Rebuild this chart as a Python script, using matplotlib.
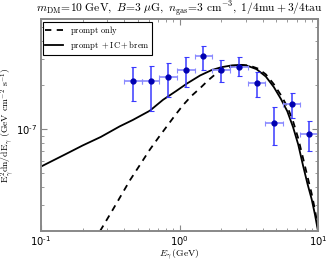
#!/usr/bin/env python3
"""Gamma-ray spectrum: prompt vs prompt+IC+brem, with binned data points."""

import math

import matplotlib
matplotlib.use("Agg")
import matplotlib.pyplot as plt
from matplotlib.font_manager import FontProperties
from matplotlib.ticker import FuncFormatter, LogLocator, NullFormatter

# model curves (E in GeV, E^2 dN/dE)
E_total = [0.1, 0.15, 0.2, 0.27, 0.37, 0.46, 0.61, 0.76, 0.95, 1.13, 1.41,
           1.7, 2.0, 2.4, 2.75, 3.1, 3.6, 4.2, 4.8, 5.4, 6.0, 6.6, 7.2, 7.8,
           8.4, 9.0, 9.5, 10.0]
F_total = [5.52e-8, 6.7e-8, 7.7e-8, 8.8e-8, 1.04e-7, 1.15e-7, 1.33e-7,
           1.58e-7, 1.82e-7, 2.04e-7, 2.32e-7, 2.52e-7, 2.64e-7, 2.72e-7,
           2.74e-7, 2.70e-7, 2.56e-7, 2.28e-7, 1.93e-7, 1.60e-7, 1.32e-7,
           1.03e-7, 7.8e-8, 5.6e-8, 4.2e-8, 3.3e-8, 2.6e-8, 2.0e-8]

E_prompt = [0.267, 0.33, 0.44, 0.52, 0.61, 0.71, 0.81, 0.93, 1.065, 1.22,
            1.41, 1.62, 1.86, 2.15, 2.45, 2.8, 3.2, 3.7, 4.2, 4.8, 5.4, 6.0,
            6.6, 7.2, 7.8, 8.4, 9.0, 9.5, 10.0]
F_prompt = [2.0e-8, 2.8e-8, 4.47e-8, 5.7e-8, 7.2e-8, 8.8e-8, 1.04e-7,
            1.24e-7, 1.46e-7, 1.68e-7, 1.90e-7, 2.16e-7, 2.41e-7, 2.58e-7,
            2.69e-7, 2.74e-7, 2.71e-7, 2.58e-7, 2.36e-7, 2.02e-7, 1.70e-7,
            1.42e-7, 1.13e-7, 8.6e-8, 6.3e-8, 4.7e-8, 3.6e-8, 2.8e-8, 2.1e-8]

# data points
E_data = [0.464, 0.62, 0.83, 1.11, 1.49, 2.0, 2.68, 3.6, 4.8, 6.45, 8.64]
E_lo = [0.40, 0.535, 0.717, 0.96, 1.29, 1.73, 2.31, 3.10, 4.16, 5.57, 7.46]
E_hi = [0.535, 0.717, 0.96, 1.29, 1.73, 2.31, 3.10, 4.16, 5.57, 7.46, 10.0]
F_data = [2.11e-7, 2.11e-7, 2.25e-7, 2.52e-7, 3.13e-7, 2.54e-7, 2.67e-7,
          2.06e-7, 1.09e-7, 1.47e-7, 9.24e-8]
F_lo = [1.56e-7, 1.33e-7, 1.66e-7, 1.93e-7, 2.54e-7, 2.09e-7, 2.31e-7,
        1.66e-7, 7.77e-8, 1.19e-7, 7.07e-8]
F_hi = [2.65e-7, 2.70e-7, 2.82e-7, 3.10e-7, 3.70e-7, 2.97e-7, 3.10e-7,
        2.45e-7, 1.40e-7, 1.76e-7, 1.14e-7]

TITLE = (r"$m_{\rm DM}\!=\!10\ \mathrm{GeV},\ B\!=\!3\ \mu\mathrm{G},\ "
         r"n_{\rm gas}\!=\!3\ \mathrm{cm}^{-3},\ 1/4\mathrm{mu}+3/4\mathrm{tau}$")


def pow10(v, _pos):
    e = int(round(math.log10(v)))
    sign = "\u2010" if e < 0 else ""
    return "$10^{%s%d}$" % (sign, abs(e))


def main():
    plt.rcParams["mathtext.fontset"] = "dejavusans"
    fig = plt.figure(figsize=(3.27, 2.61), dpi=100)
    ax = fig.add_axes([0.1254, 0.1149, 0.8471, 0.8104])

    ax.plot(E_prompt, F_prompt, color="black", lw=1.3, ls=(0, (3.5, 3)),
            label=r"$\mathrm{prompt\ only}$")
    ax.plot(E_total, F_total, color="black", lw=1.3,
            label=r"$\mathrm{prompt}\ +\mathrm{IC}+\mathrm{brem}$")

    xerr = [[c - l for c, l in zip(E_data, E_lo)],
            [h - c for c, h in zip(E_data, E_hi)]]
    yerr = [[c - l for c, l in zip(F_data, F_lo)],
            [h - c for c, h in zip(F_data, F_hi)]]
    ax.errorbar(E_data, F_data, xerr=xerr, fmt="none", ecolor="#8a8aff",
                elinewidth=1.2, capsize=1.8, capthick=0.8)
    ax.errorbar(E_data, F_data, yerr=yerr, fmt="none", ecolor="#3a3aff",
                elinewidth=1.1, capsize=1.8, capthick=0.8)
    ax.plot(E_data, F_data, "o", color="#0000b0", ms=3.5, zorder=5)

    ax.set_xscale("log")
    ax.set_yscale("log")
    ax.set_xlim(0.1, 10)
    ax.set_ylim(2e-8, 5.6e-7)
    ax.yaxis.set_major_locator(LogLocator(base=10))
    ax.yaxis.set_minor_locator(LogLocator(base=10, subs=range(2, 10)))
    for axis in (ax.xaxis, ax.yaxis):
        axis.set_major_formatter(FuncFormatter(pow10))
        axis.set_minor_formatter(NullFormatter())

    for s in ax.spines.values():
        s.set_color("#888888")
        s.set_linewidth(1.4)
    ax.tick_params(which="both", direction="in", top=True, right=True,
                   color="#888888", labelsize=7.2, pad=2.5)
    ax.tick_params(which="major", length=4, width=0.8)
    ax.tick_params(which="minor", length=2, width=0.6)

    cm_font = FontProperties(size=8.3, math_fontfamily="cm")
    ax.set_title(TITLE, fontproperties=cm_font, pad=3)
    lab_font = FontProperties(size=7, math_fontfamily="cm")
    ax.set_xlabel(r"$E_\gamma\,(\mathrm{GeV})$", fontproperties=lab_font)
    ax.xaxis.set_label_coords(0.5, -0.082)
    ax.set_ylabel(r"$\mathrm{E}_\gamma^2\mathrm{dn/dE}_\gamma\ "
                  r"(\mathrm{GeV\ cm}^{-2}\ \mathrm{s}^{-1})$",
                  fontproperties=lab_font)
    ax.yaxis.set_label_coords(-0.09, 0.5)

    leg = ax.legend(loc="upper left", prop=FontProperties(size=6.2, math_fontfamily="cm"),
                    fancybox=False, framealpha=1, edgecolor="black",
                    handlelength=2.0, handletextpad=0.9, borderaxespad=0.25,
                    borderpad=0.25, labelspacing=0.3)
    leg.get_frame().set_linewidth(0.8)

    fig.savefig("out.png", dpi=100)
    plt.close(fig)


if __name__ == "__main__":
    main()
